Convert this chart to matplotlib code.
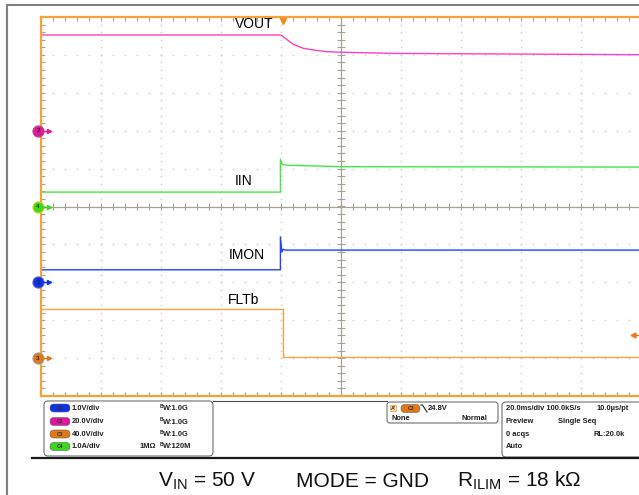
import numpy as np
import matplotlib.pyplot as plt
from matplotlib.patches import FancyBboxPatch, Rectangle
from matplotlib.lines import Line2D
from matplotlib.transforms import IdentityTransform

plt.rcParams['font.family'] = ['Liberation Sans', 'DejaVu Sans']

# --- scope data, time in ms (20 ms/div), values in channel units ---
t_vout = [-100, -20.1, -18.1, -15.9, -12.6, -9.2, -4.8, 0.2, 6.3, 17.3, 39.7, 100]
vout = [50.5, 50.5, 48.2, 45.6, 43.5, 42.6, 41.7, 41.4, 41.2, 40.8, 40.6, 40.1]

t_iin = [-100, -20.2, -20.2, -19.6, -18.0, 0, 100]
iin = [0.38, 0.38, 1.25, 1.11, 1.09, 1.05, 1.04]

t_imon = [-100, -20.2, -20.2, -19.7, -19.3, -18.5, 100]
imon = [0.33, 0.33, 1.20, 0.80, 0.87, 0.85, 0.85]

t_fltb = [-100, -19.3, -19.3, 100]
fltb = [51.8, 51.8, 1.2, 1.2]

# channels C1..C4
ch_names = ['C1', 'C2', 'C3', 'C4']
ch_num = ['1', '2', '3', '4']
ch_scale = [1.0, 20.0, 40.0, 1.0]
ch_scale_txt = ['1.0V/div', '20.0V/div', '40.0V/div', '1.0A/div']
ch_bw = ['W:1.0G', 'W:1.0G', 'W:1.0G', 'W:120M']
ch_pos = [-2.0, 2.0, -4.0, 0.0]
ch_color = ['#1030e8', '#e0169c', '#e07818', '#3cd81e']
ch_rim = ['#5060c0', '#b05090', '#a0a0a0', '#d8d020']
trace_color = ['#2244ff', '#ff40c4', '#ffa048', '#44e844']

trig_level = 24.8
trig_time = -19.3

caption = [r'$\mathregular{V_{IN}}$ = 50 V', 'MODE = GND', r'$\mathregular{R_{ILIM}}$ = 18 k$\mathregular{\Omega}$']

W, H = 639, 495
fig = plt.figure(figsize=(W / 100, H / 100), dpi=100)
pix = IdentityTransform()


def line(xs, ys, **kw):
    fig.add_artist(Line2D(xs, [H - y for y in ys], transform=pix, **kw))


def txt(x, y, s, **kw):
    kw.setdefault('va', 'center')
    kw.setdefault('fontsize', 5.4)
    kw.setdefault('fontweight', 'bold')
    kw.setdefault('color', '#202020')
    fig.text(x, H - y, s, transform=pix, **kw)


def box(x, y, w, h, r=4, **kw):
    p = FancyBboxPatch((x, H - y - h), w, h, boxstyle='round,pad=0,rounding_size=%g' % r,
                       transform=pix, **kw)
    fig.add_artist(p)


def to_div(vals, i):
    return np.array(vals) / ch_scale[i] + ch_pos[i]


# outer frame
line([7, 7], [5, 495], color='#808080', lw=1.5)
line([7, 639], [5, 5], color='#808080', lw=1.5)

ax = fig.add_axes([41 / W, 1 - 396 / H, 600 / W, 379 / H])
ax.set_xlim(-100, 100)
ax.set_ylim(-5, 5)
ax.set_xticks([])
ax.set_yticks([])
orange = '#f5a238'
for s in ['left', 'top', 'bottom']:
    ax.spines[s].set_color(orange)
    ax.spines[s].set_linewidth(1.6)
ax.spines['right'].set_visible(False)

# graticule
minor_x = np.arange(-100, 100.1, 4)
minor_y = np.arange(-5, 5.01, 0.2)
dot = dict(ls='none', marker='+', ms=1.9, mew=0.45, color='#d2d2d2')
for gx in range(-80, 81, 20):
    if gx != 0:
        ax.plot([gx] * len(minor_y), minor_y, **dot)
for gy in range(-4, 5):
    if gy != 0:
        ax.plot(minor_x, [gy] * len(minor_x), **dot)

tick_c = '#a8a292'
ax.axvline(0, color=tick_c, lw=0.9)
ax.axhline(0, color=tick_c, lw=0.9)
ax.hlines(minor_y, -1.2, 1.2, color=tick_c, lw=0.8)
ax.vlines(minor_x, -0.09, 0.09, color=tick_c, lw=0.8)
ax.vlines(minor_x, 4.9, 5, color=tick_c, lw=0.8)
ax.vlines(minor_x, -5, -4.9, color=tick_c, lw=0.8)
ax.hlines(minor_y, -100, -98.8, color=tick_c, lw=0.8)

# traces
ax.plot(t_vout, to_div(vout, 1), color=trace_color[1], lw=1.0)
ax.plot(t_iin, to_div(iin, 3), color=trace_color[3], lw=1.0)
ax.plot(t_imon, to_div(imon, 0), color=trace_color[0], lw=1.0)
ax.plot(t_fltb, to_div(fltb, 2), color=trace_color[2], lw=1.0)

ax.text(-35.3, to_div([vout[0]], 1)[0] + 0.1, 'VOUT', fontsize=10, va='bottom')
ax.text(-35.3, to_div([iin[0]], 3)[0] + 0.1, 'IIN', fontsize=10, va='bottom')
ax.text(-37.3, to_div([imon[0]], 0)[0] + 0.2, 'IMON', fontsize=10, va='bottom')
ax.text(-37.6, to_div([fltb[0]], 2)[0] + 0.05, 'FLTb', fontsize=10, va='bottom')

# channel ground markers
for i in range(4):
    ax.plot([-101], [ch_pos[i]], 'o', ms=8, mfc=ch_color[i], mec=ch_rim[i], mew=0.8,
            clip_on=False, zorder=5)
    ax.text(-101, ch_pos[i], ch_num[i], fontsize=4.5, ha='center', va='center',
            color='#101010', zorder=6, clip_on=False)
    ax.plot([-99.6, -97.5], [ch_pos[i]] * 2, color=ch_color[i], lw=1, clip_on=False, zorder=5)
    ax.plot([-97.3], [ch_pos[i]], '>', ms=3, color=ch_color[i], clip_on=False, zorder=5)

# trigger markers
lvl = trig_level / ch_scale[2] + ch_pos[2]
ax.plot([97.5, 100], [lvl, lvl], color='#f07a10', lw=1)
ax.plot([97.3], [lvl], '<', ms=3.5, color='#f07a10')
ax.plot([trig_time], [4.9], 'v', ms=5, color='#f08a20', clip_on=False, zorder=6)

# info strip
line([32, 639], [457.5, 457.5], color='#1a1a1a', lw=1.6)
line([213, 387], [401, 401], color='#505050', lw=0.8)
box(44, 401, 169, 55, r=4, fc='white', ec='#707070', lw=0.8)
rows = [408, 421.5, 434, 446.5]
for i in range(4):
    y = rows[i]
    box(50, y - 4, 20, 8, r=4, fc=ch_color[i], ec='#606060', lw=0.4)
    txt(60, y, ch_names[i], fontsize=3.5, ha='center', color='#303030')
    txt(72, y, ch_scale_txt[i])
    txt(160, y - 2, 'B', fontsize=3.5)
    txt(162.5, y + 0.5, ch_bw[i])
txt(140, rows[3], '1M\u03a9')

box(387, 402, 111, 21, r=3, fc='white', ec='#707070', lw=0.8)
fig.add_artist(Rectangle((390, H - 411), 6, 6, transform=pix, fc='#ffe6c0', ec=orange, lw=0.6))
txt(393, 408, "A'", fontsize=3.8, ha='center')
box(401, 404.5, 19, 8, r=4, fc=ch_color[2], ec='#606060', lw=0.4)
txt(410.5, 408.5, 'C3', fontsize=3.5, ha='center', color='#303030')
line([421, 422.5, 427], [405, 405, 412], color='#202020', lw=0.8)
txt(428, 408, '24.8V')
txt(392, 419, 'None')
txt(462, 419, 'Normal')

box(502, 402, 150, 55, r=4, fc='white', ec='#707070', lw=0.8)
txt(506, 408, '20.0ms/div 100.0kS/s')
txt(597, 408, '10.0\u00b5s/pt')
txt(506, 421.5, 'Preview')
txt(558, 421.5, 'Single Seq')
txt(506, 434, '0 acqs')
txt(593, 434, 'RL:20.0k')
txt(506, 446.5, 'Auto')

# caption
cap_x = [158, 296, 457]
for x, s in zip(cap_x, caption):
    fig.text(x, H - 487, s, transform=pix, fontsize=15, va='baseline', color='#101010')

fig.savefig('out.png', dpi=100, facecolor='white')
